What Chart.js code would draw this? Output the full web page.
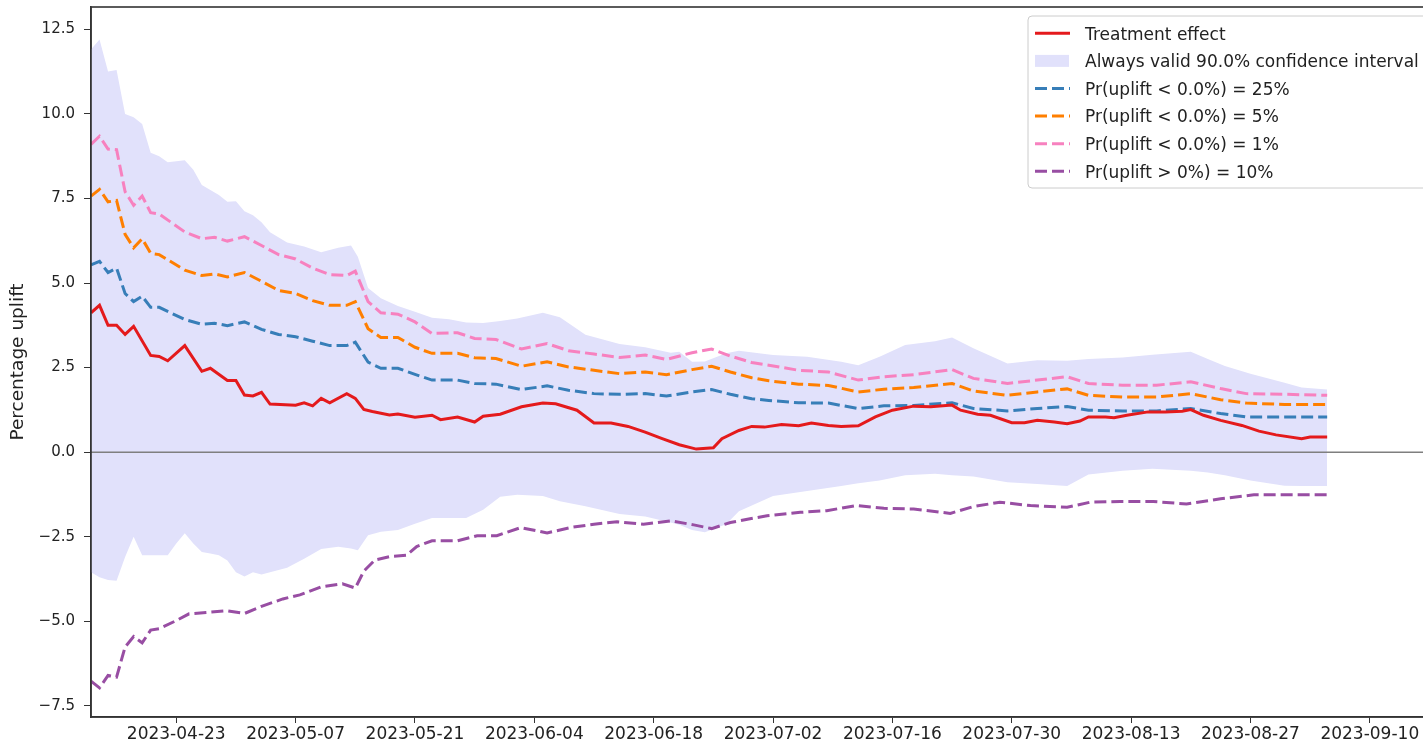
<!DOCTYPE html>
<html>
<head>
<meta charset="utf-8">
<script src="https://cdn.jsdelivr.net/npm/chart.js@4.4.0/dist/chart.umd.min.js"></script>
<style>
  html, body { margin: 0; padding: 0; background: #fff; overflow: hidden; }
  #wrap { width: 1440px; height: 745px; }
</style>
</head>
<body>
<div id="wrap"><canvas id="chart" width="1440" height="745"></canvas></div>
<script>
// days are counted from the first date of the experiment
const startDate = '2023-04-13';
const tickLabels = ['2023-04-23', '2023-05-07', '2023-05-21', '2023-06-04', '2023-06-18', '2023-07-02',
                    '2023-07-16', '2023-07-30', '2023-08-13', '2023-08-27', '2023-09-10'];
const yTicks = [-7.5, -5.0, -2.5, 0.0, 2.5, 5.0, 7.5, 10.0, 12.5];

// always valid confidence interval
const ciDays = [0, 1, 2, 3, 4, 5, 6, 7, 8, 9, 10, 11, 12, 13, 14, 15, 16, 17, 18, 19, 20, 21,
                23, 25, 27, 29, 30.5, 31.3, 32.5, 34, 36, 38, 40, 42, 44, 46, 48, 50, 53, 55, 58, 62,
                65, 68, 69, 70.5, 72, 74.5, 76, 80, 84, 88, 90, 92.5, 95.5, 99, 101, 103.5, 107.5, 111,
                114.5, 117, 121, 124.5, 129, 131, 133, 136, 140, 142, 145];
const ciUpper = [11.9, 12.2, 11.25, 11.3, 10.0, 9.9, 9.7, 8.85, 8.75, 8.57, 8.6, 8.63, 8.35, 7.9, 7.75, 7.6, 7.4, 7.42, 7.12, 7.0, 6.8, 6.5,
                 6.2, 6.08, 5.91, 6.04, 6.11, 5.78, 4.85, 4.55, 4.32, 4.15, 3.97, 3.93, 3.83, 3.82, 3.88, 3.95, 4.12, 3.99, 3.47, 3.2,
                 3.1, 2.94, 2.97, 2.67, 2.68, 2.92, 3.0, 2.87, 2.82, 2.67, 2.57, 2.82, 3.17, 3.28, 3.39, 3.07, 2.62, 2.72,
                 2.70, 2.75, 2.8, 2.88, 2.97, 2.75, 2.55, 2.32, 2.05, 1.91, 1.85];
const ciLower = [-3.55, -3.7, -3.78, -3.8, -3.1, -2.5, -3.05, -3.05, -3.05, -3.05, -2.7, -2.4, -2.7, -2.95, -3.0, -3.05, -3.2, -3.55, -3.68, -3.55, -3.62, -3.55,
                 -3.42, -3.15, -2.86, -2.8, -2.85, -2.9, -2.46, -2.35, -2.3, -2.12, -1.95, -1.95, -1.95, -1.7, -1.32, -1.26, -1.3, -1.45, -1.6, -1.83,
                 -1.9, -2.08, -2.15, -2.3, -2.37, -2.13, -1.75, -1.3, -1.15, -1.0, -0.92, -0.84, -0.68, -0.64, -0.68, -0.72, -0.89, -0.94,
                 -1.0, -0.66, -0.55, -0.49, -0.55, -0.6, -0.68, -0.84, -0.99, -1.0, -1.0];

// treatment effect
const effectDays = [0, 1, 2, 3, 4, 5, 7, 8, 9, 11, 13, 14, 16, 17, 18, 19, 20, 21, 24, 25,
                    26, 27, 28, 30, 31, 32, 33, 35, 36, 38, 40, 41, 43, 45, 46, 48, 50.5, 53, 54.5, 57,
                    59, 61, 63, 65, 67, 69, 71, 73, 74, 76, 77.5, 79, 81, 83, 84.5, 86.5, 88, 90, 92, 94,
                    96.5, 98.5, 101, 102, 104, 105.5, 108, 109.5, 111, 113, 114.5, 116, 117, 119, 120, 121.5, 124, 126, 128, 129,
                    130.5, 132.5, 135, 137, 139, 142, 143, 145];
const effect = [4.12, 4.34, 3.75, 3.75, 3.48, 3.72, 2.86, 2.83, 2.70, 3.15, 2.39, 2.48, 2.12, 2.12, 1.69, 1.66, 1.77, 1.42, 1.39, 1.46,
                1.37, 1.59, 1.46, 1.73, 1.59, 1.26, 1.20, 1.10, 1.13, 1.03, 1.09, 0.96, 1.04, 0.89, 1.06, 1.12, 1.34, 1.45, 1.43, 1.24,
                0.86, 0.86, 0.76, 0.59, 0.40, 0.22, 0.09, 0.13, 0.40, 0.64, 0.76, 0.74, 0.82, 0.78, 0.86, 0.79, 0.76, 0.78, 1.04, 1.24,
                1.36, 1.34, 1.39, 1.24, 1.12, 1.09, 0.87, 0.87, 0.94, 0.89, 0.84, 0.92, 1.04, 1.04, 1.02, 1.09, 1.19, 1.19, 1.21, 1.26,
                1.09, 0.94, 0.79, 0.62, 0.51, 0.40, 0.45, 0.45];

// Pr(uplift < 0.0%) thresholds
const probDays = [0, 1, 2, 3, 4, 5, 6, 7, 8, 11, 13, 14.5, 16, 18, 20, 22, 24, 26, 28, 30, 31,
                  32.5, 34, 36, 38, 40, 43, 45, 47.5, 50.5, 53.5, 56, 59, 62, 65, 67.5, 70.5, 72.8, 75, 77.5, 79.5,
                  83, 86.5, 90, 93, 96.5, 101, 103.5, 107.5, 111, 114.5, 117, 121, 125, 129, 132.5, 135.5, 140, 145];
const below25 = [5.54, 5.64, 5.31, 5.44, 4.69, 4.45, 4.61, 4.28, 4.28, 3.92, 3.78, 3.81, 3.74, 3.85, 3.63, 3.48, 3.41, 3.28, 3.15, 3.15, 3.25,
                 2.66, 2.48, 2.48, 2.30, 2.13, 2.13, 2.03, 2.01, 1.85, 1.96, 1.83, 1.73, 1.71, 1.73, 1.66, 1.78, 1.85, 1.71, 1.58, 1.53,
                 1.46, 1.45, 1.29, 1.37, 1.38, 1.46, 1.29, 1.22, 1.29, 1.35, 1.24, 1.22, 1.22, 1.29, 1.14, 1.04, 1.04, 1.04];
const below5 = [7.57, 7.77, 7.40, 7.44, 6.44, 6.04, 6.31, 5.88, 5.84, 5.38, 5.22, 5.27, 5.18, 5.31, 5.05, 4.78, 4.69, 4.48, 4.34, 4.34, 4.45,
                3.65, 3.39, 3.39, 3.10, 2.92, 2.92, 2.79, 2.77, 2.54, 2.67, 2.52, 2.42, 2.32, 2.37, 2.29, 2.44, 2.54, 2.37, 2.20, 2.11,
                2.01, 1.97, 1.78, 1.86, 1.91, 2.03, 1.81, 1.68, 1.78, 1.87, 1.68, 1.63, 1.63, 1.73, 1.55, 1.45, 1.41, 1.41];
const below1 = [9.10, 9.34, 8.96, 8.94, 7.70, 7.30, 7.57, 7.08, 7.04, 6.51, 6.31, 6.35, 6.24, 6.37, 6.11, 5.84, 5.71, 5.44, 5.25, 5.22, 5.35,
                4.45, 4.12, 4.08, 3.85, 3.51, 3.53, 3.36, 3.33, 3.05, 3.21, 3.00, 2.90, 2.80, 2.87, 2.74, 2.94, 3.05, 2.84, 2.65, 2.57,
                2.42, 2.37, 2.13, 2.23, 2.29, 2.44, 2.18, 2.03, 2.13, 2.23, 2.03, 1.98, 1.98, 2.08, 1.88, 1.73, 1.71, 1.68];

// Pr(uplift > 0%) = 10%
const aboveDays = [0, 1, 2, 3, 4, 5, 6, 7, 8, 10, 11.5, 13.5, 16, 18, 20, 22.5, 24.5, 27, 29.5,
                   31, 32, 33.3, 35, 37, 38.2, 40, 43, 45.3, 47.6, 50.4, 53.5, 56.2, 59, 61.7, 64.8, 68, 70.7, 72.8, 75,
                   77.3, 79.3, 83.2, 86.3, 89.8, 93, 96.5, 100.8, 103.5, 106.6, 110.2, 114.5, 117.2, 120.7, 124.6, 128.5, 132.5, 136.4, 140.3, 145];
const above10 = [-6.77, -6.97, -6.6, -6.65, -5.76, -5.45, -5.64, -5.26, -5.22, -4.98, -4.78, -4.74, -4.69, -4.77, -4.56, -4.34, -4.22, -3.98, -3.89,
                 -4.02, -3.52, -3.19, -3.09, -3.05, -2.79, -2.62, -2.62, -2.47, -2.47, -2.23, -2.39, -2.23, -2.13, -2.06, -2.13, -2.03, -2.15, -2.26, -2.08,
                 -1.97, -1.88, -1.78, -1.73, -1.58, -1.66, -1.68, -1.81, -1.61, -1.48, -1.58, -1.63, -1.48, -1.46, -1.46, -1.53, -1.38, -1.26, -1.26, -1.26];

const DAY = 86400000;
const tickDays = tickLabels.map(d => (Date.parse(d) - Date.parse(startDate)) / DAY);
const pts = (xs, ys) => xs.map((x, i) => ({ x: x, y: ys[i] }));
const FONT = 'DejaVu Sans';
const BAND = '#e1e1fb';

const line = (label, color, xs, ys, dashed) => ({
    label: label,
    data: pts(xs, ys),
    borderColor: color,
    borderWidth: 3,
    borderDash: dashed ? [12, 5] : [],
    pointRadius: 0,
    tension: 0,
    fill: false
});

// no extra room for half tick labels, the frame sits right on the layout padding
const noPad = s => { s.paddingTop = 0; s.paddingBottom = 0; s.paddingLeft = 0; s.paddingRight = 0; };

// zero line, frame and a matplotlib-like legend
const decor = {
    id: 'decor',
    afterDatasetDraw(chart, args) {
        if (args.index !== 5) return; // right after the CI band is filled
        const { ctx, chartArea } = chart;
        const y0 = chart.scales.y.getPixelForValue(0);
        ctx.save();
        ctx.strokeStyle = '#7f7f7f';
        ctx.lineWidth = 1.5;
        ctx.beginPath();
        ctx.moveTo(chartArea.left, y0);
        ctx.lineTo(chartArea.right, y0);
        ctx.stroke();
        ctx.restore();
    },
    afterDraw(chart) {
        const { ctx, chartArea } = chart;
        ctx.save();
        ctx.strokeStyle = '#333';
        ctx.lineWidth = 1.6;
        ctx.strokeRect(chartArea.left, chartArea.top, chartArea.right - chartArea.left, chartArea.bottom - chartArea.top);

        // legend box
        const bx = 1028, by = 16, bw = 402, bh = 172;
        ctx.fillStyle = 'rgba(255,255,255,0.85)';
        ctx.strokeStyle = '#cccccc';
        ctx.lineWidth = 1;
        ctx.beginPath();
        ctx.roundRect(bx, by, bw, bh, 4);
        ctx.fill();
        ctx.stroke();

        const entries = [0, 5, 1, 2, 3, 4];
        ctx.font = '17px "' + FONT + '"';
        ctx.textBaseline = 'alphabetic';
        entries.forEach((di, row) => {
            const ds = chart.data.datasets[di];
            const yc = 33.3 + row * 27.6;
            if (di === 5) {
                ctx.fillStyle = BAND;
                ctx.fillRect(1035, yc - 6, 34, 12);
            } else {
                ctx.strokeStyle = ds.borderColor;
                ctx.lineWidth = 3;
                ctx.setLineDash(ds.borderDash);
                ctx.beginPath();
                ctx.moveTo(1035, yc);
                ctx.lineTo(1070, yc);
                ctx.stroke();
                ctx.setLineDash([]);
            }
            ctx.fillStyle = '#222';
            ctx.fillText(ds.label, 1085, yc + 6.2);
        });
        ctx.restore();
    }
};

new Chart(document.getElementById('chart'), {
    type: 'line',
    data: {
        datasets: [
            line('Treatment effect', '#e41a1c', effectDays, effect, false),
            line('Pr(uplift < 0.0%) = 25%', '#377eb8', probDays, below25, true),
            line('Pr(uplift < 0.0%) = 5%', '#ff7f00', probDays, below5, true),
            line('Pr(uplift < 0.0%) = 1%', '#f781bf', probDays, below1, true),
            line('Pr(uplift > 0%) = 10%', '#984ea3', aboveDays, above10, true),
            {
                label: 'Always valid 90.0% confidence interval',
                data: pts(ciDays, ciUpper),
                borderWidth: 0,
                borderColor: BAND,
                backgroundColor: BAND,
                pointRadius: 0,
                tension: 0,
                fill: '+1'
            },
            {
                label: 'ci lower',
                data: pts(ciDays, ciLower),
                borderWidth: 0,
                borderColor: BAND,
                pointRadius: 0,
                tension: 0,
                fill: false
            }
        ]
    },
    options: {
        responsive: false,
        devicePixelRatio: 1,
        animation: false,
        events: [],
        layout: { padding: { top: 7, right: 2, left: 0, bottom: 0 } },
        plugins: {
            legend: { display: false },
            tooltip: { enabled: false }
        },
        scales: {
            x: {
                type: 'linear',
                min: 0,
                max: 158,
                afterBuildTicks: s => { s.ticks = tickDays.map(v => ({ value: v })); },
                afterFit: s => { s.height = 28; noPad(s); },
                ticks: {
                    autoSkip: false,
                    maxRotation: 0,
                    padding: 1,
                    color: '#222',
                    font: { family: FONT, size: 17 },
                    callback: v => tickLabels[tickDays.indexOf(v)]
                },
                grid: { drawOnChartArea: false, drawTicks: true, tickLength: 6, tickColor: '#333' },
                border: { display: true, color: '#333', width: 1.6 }
            },
            y: {
                type: 'linear',
                min: -7.83,
                max: 13.16,
                afterBuildTicks: s => { s.ticks = yTicks.map(v => ({ value: v })); },
                afterFit: s => { s.width = 91; noPad(s); },
                ticks: {
                    padding: 9,
                    color: '#222',
                    font: { family: FONT, size: 15 },
                    callback: v => v.toFixed(1).replace('-', '\u2212')
                },
                grid: { drawOnChartArea: false, drawTicks: true, tickLength: 7, tickColor: '#333' },
                border: { display: true, color: '#333', width: 1.6 },
                title: {
                    display: true,
                    text: 'Percentage uplift',
                    color: '#222',
                    font: { family: FONT, size: 18.5 },
                    padding: { top: 7, bottom: 0 }
                }
            }
        }
    },
    plugins: [decor]
});
</script>
</body>
</html>
